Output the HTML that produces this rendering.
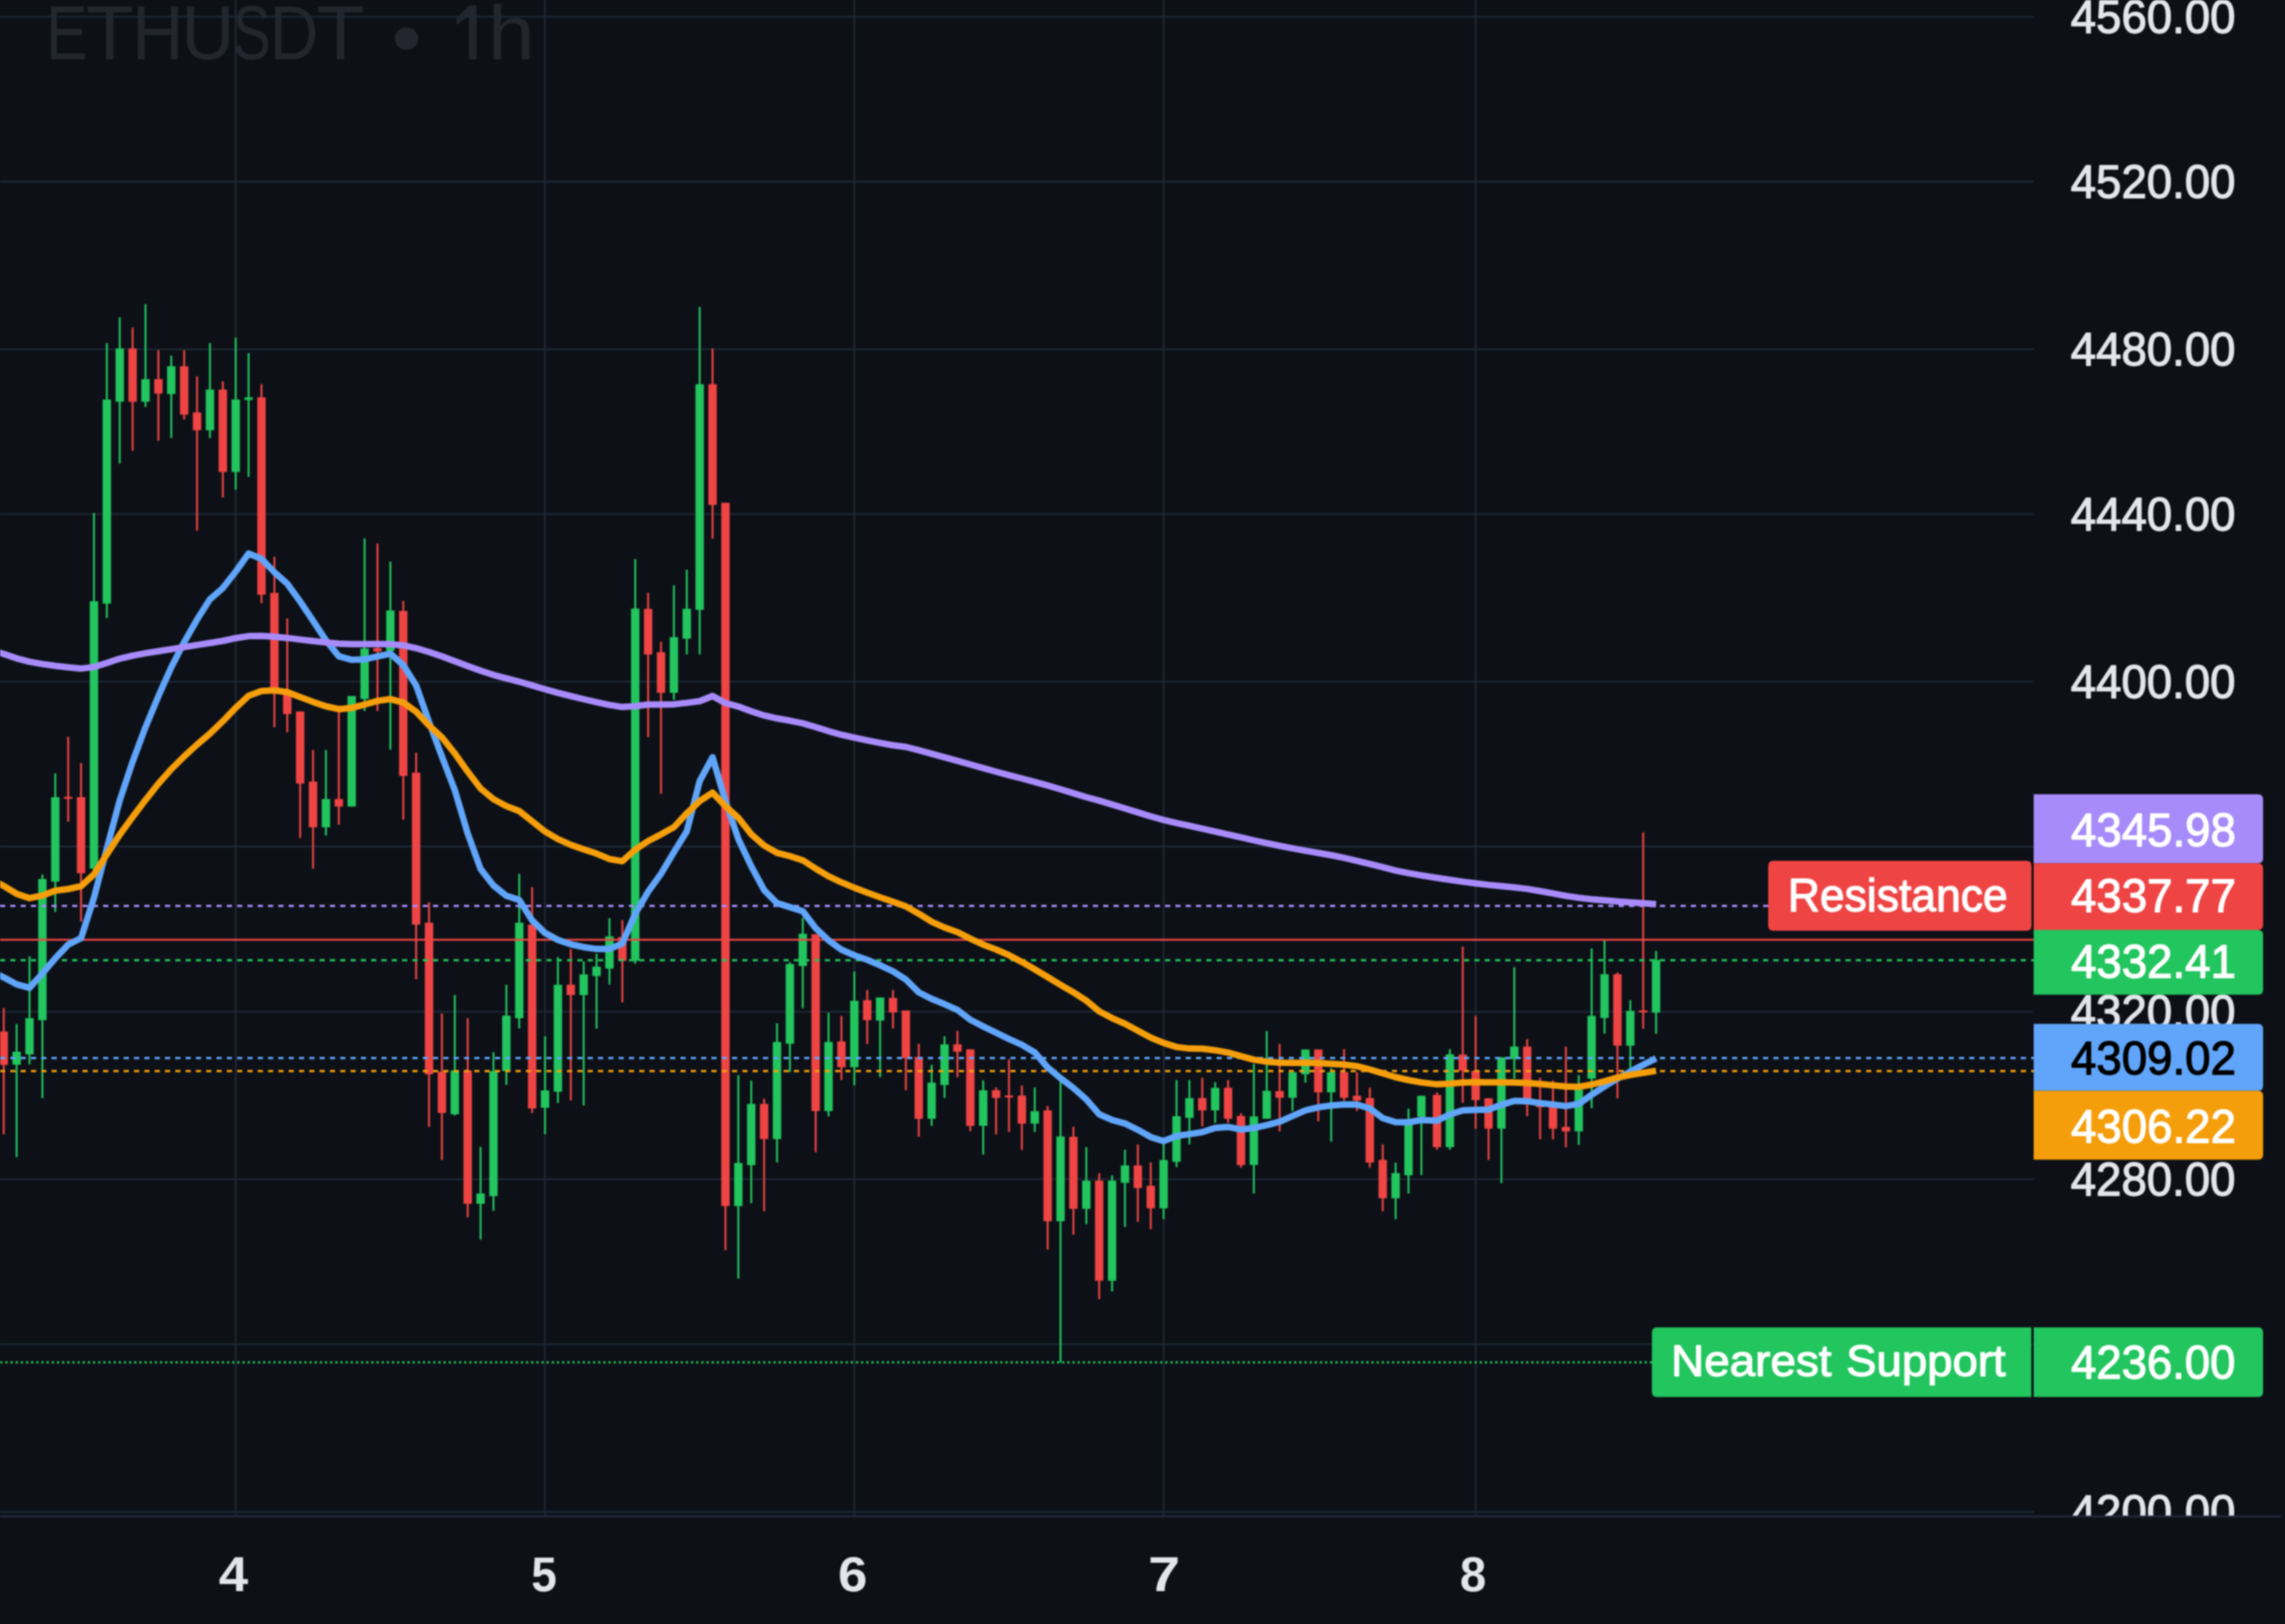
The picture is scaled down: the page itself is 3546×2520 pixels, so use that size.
<!DOCTYPE html><html><head><meta charset="utf-8"><style>html,body{margin:0;padding:0;background:#0d1117;width:3546px;height:2520px;overflow:hidden}svg{display:block;filter:blur(1.1px)}text{font-family:"Liberation Sans",sans-serif}</style></head><body>
<svg width="3546" height="2520" viewBox="0 0 3546 2520">
<rect x="0" y="0" width="3546" height="2520" fill="#0d1117"/>
<text x="71.13" y="91.80" font-size="119.50" textLength="64.76" lengthAdjust="spacingAndGlyphs" fill="#23262e">E</text>
<text x="133.38" y="91.80" font-size="119.50" textLength="74.06" lengthAdjust="spacingAndGlyphs" fill="#23262e">T</text>
<text x="204.83" y="91.80" font-size="119.50" textLength="80.09" lengthAdjust="spacingAndGlyphs" fill="#23262e">H</text>
<text x="281.61" y="91.80" font-size="119.50" textLength="82.10" lengthAdjust="spacingAndGlyphs" fill="#23262e">U</text>
<text x="360.64" y="91.80" font-size="119.50" textLength="59.45" lengthAdjust="spacingAndGlyphs" fill="#23262e">S</text>
<text x="418.20" y="91.80" font-size="119.50" textLength="75.83" lengthAdjust="spacingAndGlyphs" fill="#23262e">D</text>
<text x="491.04" y="91.80" font-size="119.50" textLength="75.03" lengthAdjust="spacingAndGlyphs" fill="#23262e">T</text>
<text x="757.12" y="91.80" font-size="119.50" textLength="72.97" lengthAdjust="spacingAndGlyphs" fill="#23262e">h</text>
<ellipse cx="630.9" cy="60" rx="18.2" ry="17.5" fill="#23262e"/>
<path d="M708.5,28 L728.5,8.2 L739.6,8.2 L739.6,91.8 L727.8,91.8 L727.8,24.5 L708.5,38.5 Z" fill="#23262e"/>
<g stroke="#1e2836" stroke-width="2.6">
<line x1="0" y1="26.0" x2="3156" y2="26.0"/>
<line x1="0" y1="281.9" x2="3156" y2="281.9"/>
<line x1="0" y1="542.0" x2="3156" y2="542.0"/>
<line x1="0" y1="797.8" x2="3156" y2="797.8"/>
<line x1="0" y1="1057.7" x2="3156" y2="1057.7"/>
<line x1="0" y1="1313.6" x2="3156" y2="1313.6"/>
<line x1="0" y1="1570.0" x2="3156" y2="1570.0"/>
<line x1="0" y1="1829.8" x2="3156" y2="1829.8"/>
<line x1="0" y1="2086.0" x2="3156" y2="2086.0"/>
<line x1="0" y1="2346.1" x2="3156" y2="2346.1"/>
<line x1="365.8" y1="0" x2="365.8" y2="2353"/>
<line x1="845.8" y1="0" x2="845.8" y2="2353"/>
<line x1="1325.8" y1="0" x2="1325.8" y2="2353"/>
<line x1="1805.8" y1="0" x2="1805.8" y2="2353"/>
<line x1="2290.0" y1="0" x2="2290.0" y2="2353"/>
</g>
<line x1="0" y1="2353" x2="3540" y2="2353" stroke="#222b3d" stroke-width="2.8"/>
<g fill="#22c55e"><rect x="24.30" y="1589.0" width="3" height="206.5"/><rect x="19.30" y="1632.0" width="13" height="20.0"/><rect x="44.30" y="1484.0" width="3" height="167.5"/><rect x="39.30" y="1580.0" width="13" height="56.0"/><rect x="64.30" y="1357.0" width="3" height="347.0"/><rect x="59.30" y="1364.0" width="13" height="219.0"/><rect x="84.30" y="1200.0" width="3" height="215.0"/><rect x="79.30" y="1237.0" width="13" height="131.0"/><rect x="144.30" y="796.0" width="3" height="554.0"/><rect x="139.30" y="933.0" width="13" height="415.0"/><rect x="164.30" y="532.4" width="3" height="426.6"/><rect x="159.30" y="620.0" width="13" height="316.6"/><rect x="184.30" y="492.4" width="3" height="226.9"/><rect x="179.30" y="540.7" width="13" height="82.7"/><rect x="224.30" y="472.0" width="3" height="159.4"/><rect x="219.30" y="588.3" width="13" height="35.1"/><rect x="264.30" y="552.0" width="3" height="127.7"/><rect x="259.30" y="568.3" width="13" height="43.1"/><rect x="324.30" y="532.4" width="3" height="147.3"/><rect x="319.30" y="604.5" width="13" height="63.1"/><rect x="364.30" y="523.8" width="3" height="236.2"/><rect x="359.30" y="620.0" width="13" height="112.4"/><rect x="384.30" y="548.0" width="3" height="192.0"/><rect x="379.30" y="616.6" width="13" height="4.0"/><rect x="504.30" y="1163.8" width="3" height="132.7"/><rect x="499.30" y="1239.9" width="13" height="43.8"/><rect x="544.30" y="1080.0" width="3" height="171.5"/><rect x="539.30" y="1080.0" width="13" height="171.5"/><rect x="564.30" y="835.5" width="3" height="267.8"/><rect x="559.30" y="1006.3" width="13" height="78.4"/><rect x="604.30" y="871.6" width="3" height="291.8"/><rect x="599.30" y="947.3" width="13" height="62.7"/><rect x="704.30" y="1544.0" width="3" height="187.0"/><rect x="699.30" y="1661.0" width="13" height="68.0"/><rect x="744.30" y="1779.6" width="3" height="143.8"/><rect x="739.30" y="1852.0" width="13" height="16.0"/><rect x="764.30" y="1632.8" width="3" height="246.2"/><rect x="759.30" y="1662.0" width="13" height="194.0"/><rect x="784.30" y="1528.0" width="3" height="155.5"/><rect x="779.30" y="1576.0" width="13" height="86.0"/><rect x="804.30" y="1356.0" width="3" height="239.8"/><rect x="799.30" y="1431.8" width="13" height="148.2"/><rect x="844.30" y="1608.0" width="3" height="152.0"/><rect x="839.30" y="1692.0" width="13" height="27.0"/><rect x="864.30" y="1485.0" width="3" height="226.6"/><rect x="859.30" y="1528.0" width="13" height="166.0"/><rect x="904.30" y="1492.0" width="3" height="223.5"/><rect x="899.30" y="1512.0" width="13" height="32.0"/><rect x="924.30" y="1480.0" width="3" height="116.0"/><rect x="919.30" y="1500.0" width="13" height="14.5"/><rect x="944.30" y="1424.7" width="3" height="103.1"/><rect x="939.30" y="1453.0" width="13" height="50.0"/><rect x="984.30" y="867.6" width="3" height="627.9"/><rect x="979.30" y="944.3" width="13" height="546.7"/><rect x="1044.30" y="908.4" width="3" height="177.6"/><rect x="1039.30" y="988.7" width="13" height="86.3"/><rect x="1064.30" y="884.0" width="3" height="131.5"/><rect x="1059.30" y="944.7" width="13" height="46.3"/><rect x="1084.30" y="476.1" width="3" height="539.4"/><rect x="1079.30" y="596.2" width="13" height="350.1"/><rect x="1144.30" y="1668.4" width="3" height="315.6"/><rect x="1139.30" y="1804.6" width="13" height="66.9"/><rect x="1164.30" y="1676.7" width="3" height="190.3"/><rect x="1159.30" y="1713.0" width="13" height="95.0"/><rect x="1204.30" y="1588.0" width="3" height="215.8"/><rect x="1199.30" y="1616.8" width="13" height="150.7"/><rect x="1224.30" y="1493.0" width="3" height="170.5"/><rect x="1219.30" y="1496.0" width="13" height="123.7"/><rect x="1244.30" y="1424.0" width="3" height="140.4"/><rect x="1239.30" y="1448.9" width="13" height="50.1"/><rect x="1284.30" y="1571.4" width="3" height="161.0"/><rect x="1279.30" y="1616.8" width="13" height="107.2"/><rect x="1324.30" y="1507.5" width="3" height="176.5"/><rect x="1319.30" y="1552.9" width="13" height="103.1"/><rect x="1364.30" y="1547.8" width="3" height="123.7"/><rect x="1359.30" y="1547.8" width="13" height="35.8"/><rect x="1444.30" y="1652.3" width="3" height="94.7"/><rect x="1439.30" y="1680.0" width="13" height="56.0"/><rect x="1464.30" y="1608.0" width="3" height="95.7"/><rect x="1459.30" y="1620.5" width="13" height="63.2"/><rect x="1524.30" y="1676.3" width="3" height="115.3"/><rect x="1519.30" y="1691.8" width="13" height="55.2"/><rect x="1604.30" y="1687.4" width="3" height="69.1"/><rect x="1599.30" y="1724.3" width="13" height="19.2"/><rect x="1644.30" y="1675.8" width="3" height="438.6"/><rect x="1639.30" y="1763.5" width="13" height="131.5"/><rect x="1684.30" y="1780.0" width="3" height="119.6"/><rect x="1679.30" y="1832.0" width="13" height="43.8"/><rect x="1724.30" y="1823.9" width="3" height="180.0"/><rect x="1719.30" y="1832.0" width="13" height="155.4"/><rect x="1744.30" y="1783.9" width="3" height="120.0"/><rect x="1739.30" y="1808.4" width="13" height="27.0"/><rect x="1804.30" y="1772.3" width="3" height="119.3"/><rect x="1799.30" y="1800.0" width="13" height="75.0"/><rect x="1824.30" y="1675.8" width="3" height="135.2"/><rect x="1819.30" y="1732.0" width="13" height="70.8"/><rect x="1844.30" y="1675.8" width="3" height="100.0"/><rect x="1839.30" y="1703.9" width="13" height="30.8"/><rect x="1884.30" y="1679.3" width="3" height="63.2"/><rect x="1879.30" y="1688.0" width="13" height="35.0"/><rect x="1944.30" y="1651.0" width="3" height="201.0"/><rect x="1939.30" y="1732.4" width="13" height="75.3"/><rect x="1964.30" y="1599.9" width="3" height="136.1"/><rect x="1959.30" y="1692.6" width="13" height="43.4"/><rect x="2004.30" y="1663.7" width="3" height="60.3"/><rect x="1999.30" y="1663.7" width="13" height="39.8"/><rect x="2024.30" y="1628.6" width="3" height="51.4"/><rect x="2019.30" y="1628.6" width="13" height="38.3"/><rect x="2064.30" y="1657.4" width="3" height="114.1"/><rect x="2059.30" y="1663.7" width="13" height="31.3"/><rect x="2164.30" y="1804.0" width="3" height="87.8"/><rect x="2159.30" y="1820.3" width="13" height="39.1"/><rect x="2184.30" y="1720.2" width="3" height="131.8"/><rect x="2179.30" y="1739.0" width="13" height="84.8"/><rect x="2204.30" y="1700.0" width="3" height="123.5"/><rect x="2199.30" y="1700.3" width="13" height="32.6"/><rect x="2248.50" y="1628.0" width="3" height="156.0"/><rect x="2243.50" y="1636.0" width="13" height="144.0"/><rect x="2328.50" y="1640.6" width="3" height="195.4"/><rect x="2323.50" y="1640.6" width="13" height="110.8"/><rect x="2348.50" y="1500.7" width="3" height="173.1"/><rect x="2343.50" y="1624.0" width="13" height="19.4"/><rect x="2448.50" y="1668.3" width="3" height="108.1"/><rect x="2443.50" y="1690.5" width="13" height="65.1"/><rect x="2468.50" y="1471.6" width="3" height="248.0"/><rect x="2463.50" y="1576.3" width="13" height="97.5"/><rect x="2488.50" y="1459.0" width="3" height="145.0"/><rect x="2483.50" y="1511.7" width="13" height="67.9"/><rect x="2528.50" y="1552.0" width="3" height="106.6"/><rect x="2523.50" y="1568.5" width="13" height="54.1"/><rect x="2568.50" y="1475.7" width="3" height="128.3"/><rect x="2563.50" y="1489.6" width="13" height="81.7"/></g>
<g fill="#ef4444"><rect x="4.30" y="1564.0" width="3" height="196.0"/><rect x="-0.70" y="1600.6" width="13" height="51.8"/><rect x="104.30" y="1143.5" width="3" height="131.5"/><rect x="99.30" y="1236.5" width="13" height="3.0"/><rect x="124.30" y="1184.0" width="3" height="246.0"/><rect x="119.30" y="1237.0" width="13" height="118.0"/><rect x="204.30" y="508.3" width="3" height="191.0"/><rect x="199.30" y="540.7" width="13" height="82.7"/><rect x="244.30" y="543.4" width="3" height="140.4"/><rect x="239.30" y="588.3" width="13" height="22.4"/><rect x="284.30" y="543.4" width="3" height="107.6"/><rect x="279.30" y="568.3" width="13" height="75.1"/><rect x="304.30" y="584.0" width="3" height="239.4"/><rect x="299.30" y="640.0" width="13" height="27.6"/><rect x="344.30" y="591.7" width="3" height="180.3"/><rect x="339.30" y="604.5" width="13" height="127.9"/><rect x="404.30" y="596.2" width="3" height="339.7"/><rect x="399.30" y="616.6" width="13" height="306.2"/><rect x="424.30" y="863.8" width="3" height="264.7"/><rect x="419.30" y="920.0" width="13" height="147.6"/><rect x="444.30" y="959.7" width="3" height="176.6"/><rect x="439.30" y="1071.5" width="13" height="36.5"/><rect x="464.30" y="1104.0" width="3" height="196.4"/><rect x="459.30" y="1104.0" width="13" height="111.8"/><rect x="484.30" y="1163.8" width="3" height="184.0"/><rect x="479.30" y="1212.7" width="13" height="71.0"/><rect x="524.30" y="1104.0" width="3" height="175.8"/><rect x="519.30" y="1239.9" width="13" height="11.6"/><rect x="584.30" y="843.3" width="3" height="260.0"/><rect x="579.30" y="1006.0" width="13" height="5.0"/><rect x="624.30" y="932.5" width="3" height="339.5"/><rect x="619.30" y="948.0" width="13" height="256.0"/><rect x="644.30" y="1168.0" width="3" height="351.5"/><rect x="639.30" y="1199.0" width="13" height="235.7"/><rect x="664.30" y="1400.0" width="3" height="348.5"/><rect x="659.30" y="1431.8" width="13" height="235.2"/><rect x="684.30" y="1572.7" width="3" height="227.3"/><rect x="679.30" y="1663.0" width="13" height="64.0"/><rect x="724.30" y="1580.0" width="3" height="309.0"/><rect x="719.30" y="1661.0" width="13" height="207.0"/><rect x="824.30" y="1376.6" width="3" height="350.4"/><rect x="819.30" y="1434.7" width="13" height="285.3"/><rect x="884.30" y="1472.7" width="3" height="234.9"/><rect x="879.30" y="1528.0" width="13" height="16.0"/><rect x="964.30" y="1427.8" width="3" height="127.7"/><rect x="959.30" y="1454.0" width="13" height="37.0"/><rect x="1004.30" y="919.8" width="3" height="223.9"/><rect x="999.30" y="944.7" width="13" height="70.8"/><rect x="1024.30" y="996.0" width="3" height="235.8"/><rect x="1019.30" y="1012.0" width="13" height="63.0"/><rect x="1104.30" y="540.7" width="3" height="295.3"/><rect x="1099.30" y="596.2" width="13" height="187.2"/><rect x="1124.30" y="780.2" width="3" height="1159.8"/><rect x="1119.30" y="780.2" width="13" height="1091.3"/><rect x="1184.30" y="1704.7" width="3" height="175.0"/><rect x="1179.30" y="1713.0" width="13" height="54.5"/><rect x="1264.30" y="1449.7" width="3" height="338.3"/><rect x="1259.30" y="1449.7" width="13" height="274.3"/><rect x="1304.30" y="1576.4" width="3" height="99.4"/><rect x="1299.30" y="1616.0" width="13" height="40.0"/><rect x="1344.30" y="1536.0" width="3" height="84.0"/><rect x="1339.30" y="1552.0" width="13" height="31.0"/><rect x="1384.30" y="1536.0" width="3" height="59.8"/><rect x="1379.30" y="1548.5" width="13" height="22.5"/><rect x="1404.30" y="1568.0" width="3" height="123.8"/><rect x="1399.30" y="1568.0" width="13" height="74.0"/><rect x="1424.30" y="1619.8" width="3" height="144.1"/><rect x="1419.30" y="1640.0" width="13" height="96.0"/><rect x="1484.30" y="1599.5" width="3" height="72.0"/><rect x="1479.30" y="1620.5" width="13" height="11.5"/><rect x="1504.30" y="1628.3" width="3" height="127.1"/><rect x="1499.30" y="1628.3" width="13" height="118.7"/><rect x="1544.30" y="1687.4" width="3" height="72.8"/><rect x="1539.30" y="1691.8" width="13" height="11.9"/><rect x="1564.30" y="1643.8" width="3" height="112.7"/><rect x="1559.30" y="1700.0" width="13" height="3.0"/><rect x="1584.30" y="1684.4" width="3" height="99.8"/><rect x="1579.30" y="1700.0" width="13" height="43.5"/><rect x="1624.30" y="1716.0" width="3" height="223.0"/><rect x="1619.30" y="1723.0" width="13" height="172.0"/><rect x="1664.30" y="1748.4" width="3" height="167.6"/><rect x="1659.30" y="1764.0" width="13" height="111.8"/><rect x="1704.30" y="1820.4" width="3" height="195.6"/><rect x="1699.30" y="1832.0" width="13" height="155.4"/><rect x="1764.30" y="1775.8" width="3" height="120.2"/><rect x="1759.30" y="1808.4" width="13" height="35.1"/><rect x="1784.30" y="1803.9" width="3" height="103.5"/><rect x="1779.30" y="1840.0" width="13" height="35.0"/><rect x="1864.30" y="1672.3" width="3" height="75.4"/><rect x="1859.30" y="1703.9" width="13" height="19.1"/><rect x="1904.30" y="1675.9" width="3" height="66.3"/><rect x="1899.30" y="1687.8" width="13" height="48.2"/><rect x="1924.30" y="1727.5" width="3" height="84.4"/><rect x="1919.30" y="1731.7" width="13" height="76.3"/><rect x="1984.30" y="1619.8" width="3" height="136.0"/><rect x="1979.30" y="1693.0" width="13" height="10.5"/><rect x="2044.30" y="1628.6" width="3" height="111.5"/><rect x="2039.30" y="1628.6" width="13" height="66.4"/><rect x="2084.30" y="1628.0" width="3" height="79.7"/><rect x="2079.30" y="1663.7" width="13" height="39.8"/><rect x="2104.30" y="1663.7" width="3" height="60.3"/><rect x="2099.30" y="1700.3" width="13" height="7.4"/><rect x="2124.30" y="1687.8" width="3" height="124.1"/><rect x="2119.30" y="1703.9" width="13" height="100.1"/><rect x="2144.30" y="1775.7" width="3" height="104.0"/><rect x="2139.30" y="1799.8" width="13" height="59.6"/><rect x="2228.50" y="1695.0" width="3" height="89.0"/><rect x="2223.50" y="1699.0" width="13" height="81.0"/><rect x="2268.50" y="1468.8" width="3" height="242.4"/><rect x="2263.50" y="1636.4" width="13" height="25.0"/><rect x="2288.50" y="1576.3" width="3" height="175.1"/><rect x="2283.50" y="1661.4" width="13" height="45.6"/><rect x="2308.50" y="1704.0" width="3" height="96.0"/><rect x="2303.50" y="1704.3" width="13" height="47.1"/><rect x="2368.50" y="1612.3" width="3" height="119.7"/><rect x="2363.50" y="1624.0" width="13" height="90.0"/><rect x="2388.50" y="1672.5" width="3" height="95.5"/><rect x="2383.50" y="1715.4" width="13" height="2.6"/><rect x="2408.50" y="1676.6" width="3" height="91.4"/><rect x="2403.50" y="1718.0" width="13" height="33.4"/><rect x="2428.50" y="1624.0" width="3" height="156.5"/><rect x="2423.50" y="1748.6" width="13" height="7.0"/><rect x="2508.50" y="1509.0" width="3" height="195.3"/><rect x="2503.50" y="1511.7" width="13" height="110.9"/><rect x="2548.50" y="1291.6" width="3" height="304.7"/><rect x="2543.50" y="1568.0" width="13" height="3.0"/></g>
<line x1="0" y1="1405.8" x2="2744" y2="1405.8" stroke="#a78bfa" stroke-width="3.6" stroke-dasharray="8 8"/>
<line x1="0" y1="1458.2" x2="3156" y2="1458.2" stroke="#ef4444" stroke-width="3.0"/>
<line x1="0" y1="1490.0" x2="3156" y2="1490.0" stroke="#22c55e" stroke-width="3.6" stroke-dasharray="8 8"/>
<line x1="0" y1="1641.8" x2="3156" y2="1641.8" stroke="#60a5fa" stroke-width="3.6" stroke-dasharray="8 8"/>
<line x1="0" y1="1662.0" x2="3156" y2="1662.0" stroke="#f59e0b" stroke-width="3.6" stroke-dasharray="8 8"/>
<line x1="2" y1="2114.1" x2="2563" y2="2114.1" stroke="#22c55e" stroke-width="4" stroke-dasharray="0 8" stroke-linecap="round"/>
<polyline points="-14.2,1506.7 5.8,1516.7 25.8,1527.4 45.8,1532.8 65.8,1510.5 85.8,1487.0 105.8,1465.8 125.8,1455.7 145.8,1393.1 165.8,1316.5 185.8,1242.0 205.8,1181.9 225.8,1128.3 245.8,1080.3 265.8,1035.5 285.8,996.5 305.8,961.4 325.8,929.9 345.8,912.4 365.8,887.0 385.8,858.9 405.8,867.2 425.8,887.9 445.8,905.7 465.8,933.4 485.8,963.2 505.8,993.4 525.8,1018.4 545.8,1023.8 565.8,1023.2 585.8,1018.7 605.8,1014.3 625.8,1032.0 645.8,1063.6 665.8,1120.3 685.8,1173.9 705.8,1226.2 725.8,1293.3 745.8,1348.4 765.8,1374.0 785.8,1390.1 805.8,1396.6 825.8,1428.1 845.8,1447.7 865.8,1458.5 885.8,1465.3 905.8,1469.7 925.8,1472.6 945.8,1472.5 965.8,1464.1 985.8,1417.7 1005.8,1383.7 1025.8,1355.9 1045.8,1322.3 1065.8,1290.0 1085.8,1212.0 1105.8,1175.0 1125.8,1243.0 1145.8,1302.0 1165.8,1344.2 1185.8,1381.2 1205.8,1401.4 1225.8,1407.6 1245.8,1413.9 1265.8,1440.2 1285.8,1459.1 1305.8,1473.7 1325.8,1482.4 1345.8,1489.4 1365.8,1497.9 1385.8,1507.2 1405.8,1520.0 1425.8,1539.9 1445.8,1550.0 1465.8,1558.2 1485.8,1567.1 1505.8,1582.4 1525.8,1592.8 1545.8,1602.5 1565.8,1612.3 1585.8,1621.3 1605.8,1633.1 1625.8,1656.4 1645.8,1673.0 1665.8,1688.3 1685.8,1705.9 1705.8,1729.1 1725.8,1737.9 1745.8,1743.3 1765.8,1753.2 1785.8,1764.4 1805.8,1770.7 1825.8,1762.8 1845.8,1759.9 1865.8,1756.7 1885.8,1750.3 1905.8,1748.7 1925.8,1752.7 1945.8,1750.3 1965.8,1745.9 1985.8,1740.6 2005.8,1731.7 2025.8,1723.0 2045.8,1718.3 2065.8,1715.4 2085.8,1713.8 2105.8,1714.0 2125.8,1720.0 2145.8,1735.0 2165.8,1741.3 2185.8,1741.5 2205.8,1738.0 2230.0,1739.0 2250.0,1729.2 2270.0,1723.0 2290.0,1722.2 2310.0,1721.8 2330.0,1714.4 2350.0,1708.2 2370.0,1708.8 2390.0,1711.6 2410.0,1713.9 2430.0,1716.4 2450.0,1712.9 2470.0,1698.9 2490.0,1685.8 2510.0,1673.8 2530.0,1662.8 2550.0,1652.4 2570.0,1642.3" fill="none" stroke="#60a5fa" stroke-width="10" stroke-linejoin="round" stroke-linecap="butt"/>
<polyline points="-14.2,1363.9 5.8,1374.8 25.8,1386.9 45.8,1393.7 65.8,1389.6 85.8,1382.0 105.8,1379.5 125.8,1375.1 145.8,1356.7 165.8,1325.7 185.8,1295.2 205.8,1267.7 225.8,1241.3 245.8,1216.1 265.8,1193.5 285.8,1173.7 305.8,1155.4 325.8,1138.4 345.8,1119.2 365.8,1098.3 385.8,1079.6 405.8,1072.2 425.8,1071.2 445.8,1074.0 465.8,1081.6 485.8,1089.2 505.8,1096.0 525.8,1100.4 545.8,1098.4 565.8,1093.3 585.8,1087.6 605.8,1084.8 625.8,1090.2 645.8,1104.4 665.8,1125.8 685.8,1144.1 705.8,1169.1 725.8,1197.3 745.8,1223.5 765.8,1240.1 785.8,1250.8 805.8,1258.5 825.8,1274.4 845.8,1290.3 865.8,1302.0 885.8,1311.0 905.8,1317.9 925.8,1324.6 945.8,1333.0 965.8,1336.4 985.8,1318.4 1005.8,1305.1 1025.8,1294.7 1045.8,1283.7 1065.8,1262.0 1085.8,1243.0 1105.8,1230.0 1125.8,1251.0 1145.8,1269.0 1165.8,1294.4 1185.8,1312.0 1205.8,1323.4 1225.8,1328.5 1245.8,1334.9 1265.8,1347.9 1285.8,1359.8 1305.8,1369.2 1325.8,1377.5 1345.8,1385.2 1365.8,1392.4 1385.8,1399.3 1405.8,1406.5 1425.8,1417.8 1445.8,1430.2 1465.8,1439.2 1485.8,1446.4 1505.8,1456.5 1525.8,1465.8 1545.8,1473.4 1565.8,1482.2 1585.8,1492.7 1605.8,1504.1 1625.8,1516.1 1645.8,1528.2 1665.8,1539.8 1685.8,1552.7 1705.8,1569.4 1725.8,1579.8 1745.8,1588.6 1765.8,1599.3 1785.8,1610.1 1805.8,1618.4 1825.8,1624.6 1845.8,1627.1 1865.8,1627.2 1885.8,1629.7 1905.8,1633.3 1925.8,1638.9 1945.8,1644.4 1965.8,1647.4 1985.8,1648.9 2005.8,1649.3 2025.8,1649.0 2045.8,1649.6 2065.8,1650.7 2085.8,1652.0 2105.8,1654.4 2125.8,1659.5 2145.8,1665.5 2165.8,1671.5 2185.8,1676.0 2205.8,1679.6 2230.0,1682.6 2250.0,1681.6 2270.0,1679.7 2290.0,1679.2 2310.0,1679.4 2330.0,1679.5 2350.0,1679.7 2370.0,1680.4 2390.0,1682.0 2410.0,1684.1 2430.0,1686.0 2450.0,1686.4 2470.0,1683.0 2490.0,1677.9 2510.0,1672.1 2530.0,1668.0 2550.0,1664.8 2570.0,1661.6" fill="none" stroke="#f59e0b" stroke-width="10" stroke-linejoin="round" stroke-linecap="butt"/>
<polyline points="-14.2,1008.4 5.8,1014.7 25.8,1021.6 45.8,1026.9 65.8,1030.4 85.8,1033.2 105.8,1035.5 125.8,1037.4 145.8,1035.1 165.8,1028.7 185.8,1022.1 205.8,1017.3 225.8,1013.7 245.8,1010.5 265.8,1007.4 285.8,1004.1 305.8,1000.9 325.8,997.7 345.8,994.5 365.8,990.2 385.8,987.1 405.8,986.8 425.8,988.0 445.8,989.9 465.8,992.4 485.8,994.8 505.8,996.9 525.8,998.7 545.8,999.6 565.8,999.6 585.8,999.3 605.8,999.5 625.8,1001.4 645.8,1005.8 665.8,1011.7 685.8,1018.5 705.8,1026.0 725.8,1033.5 745.8,1040.8 765.8,1047.3 785.8,1052.6 805.8,1057.8 825.8,1063.6 845.8,1069.5 865.8,1075.1 885.8,1080.2 905.8,1085.0 925.8,1089.7 945.8,1093.9 965.8,1097.1 985.8,1095.8 1005.8,1093.2 1025.8,1093.2 1045.8,1092.9 1065.8,1090.6 1085.8,1088.0 1105.8,1080.0 1125.8,1091.0 1145.8,1096.3 1165.8,1103.7 1185.8,1110.2 1205.8,1114.8 1225.8,1118.3 1245.8,1122.4 1265.8,1128.2 1285.8,1134.6 1305.8,1140.2 1325.8,1144.7 1345.8,1148.9 1365.8,1152.9 1385.8,1156.5 1405.8,1159.0 1425.8,1164.2 1445.8,1169.6 1465.8,1175.1 1485.8,1180.6 1505.8,1186.2 1525.8,1191.9 1545.8,1197.5 1565.8,1202.8 1585.8,1208.0 1605.8,1213.3 1625.8,1218.9 1645.8,1224.8 1665.8,1230.9 1685.8,1237.0 1705.8,1242.4 1725.8,1248.4 1745.8,1254.5 1765.8,1260.6 1785.8,1266.8 1805.8,1272.4 1825.8,1277.1 1845.8,1281.4 1865.8,1285.8 1885.8,1290.3 1905.8,1294.9 1925.8,1299.4 1945.8,1304.0 1965.8,1308.4 1985.8,1312.5 2005.8,1316.4 2025.8,1320.1 2045.8,1323.5 2065.8,1327.0 2085.8,1331.2 2105.8,1335.8 2125.8,1340.6 2145.8,1345.7 2165.8,1350.8 2185.8,1354.9 2205.8,1358.4 2230.0,1362.2 2250.0,1365.2 2270.0,1368.1 2290.0,1370.7 2310.0,1373.1 2330.0,1375.1 2350.0,1377.0 2370.0,1379.4 2390.0,1382.7 2410.0,1386.4 2430.0,1390.1 2450.0,1393.1 2470.0,1395.4 2490.0,1397.1 2510.0,1398.7 2530.0,1400.2 2550.0,1401.6 2570.0,1402.9" fill="none" stroke="#a78bfa" stroke-width="10" stroke-linejoin="round" stroke-linecap="butt"/>
<clipPath id="pa"><rect x="3156" y="0" width="400" height="2351.7"/></clipPath><g clip-path="url(#pa)">
<text x="3213.49" y="51.30" font-size="72.50" textLength="255.58" lengthAdjust="spacingAndGlyphs" fill="#e2e5ea" stroke="#e2e5ea" stroke-width="1.8" stroke-linejoin="round">4560.00</text>
<text x="3213.49" y="307.20" font-size="72.50" textLength="255.58" lengthAdjust="spacingAndGlyphs" fill="#e2e5ea" stroke="#e2e5ea" stroke-width="1.8" stroke-linejoin="round">4520.00</text>
<text x="3213.49" y="567.30" font-size="72.50" textLength="255.58" lengthAdjust="spacingAndGlyphs" fill="#e2e5ea" stroke="#e2e5ea" stroke-width="1.8" stroke-linejoin="round">4480.00</text>
<text x="3213.49" y="823.10" font-size="72.50" textLength="255.58" lengthAdjust="spacingAndGlyphs" fill="#e2e5ea" stroke="#e2e5ea" stroke-width="1.8" stroke-linejoin="round">4440.00</text>
<text x="3213.49" y="1083.00" font-size="72.50" textLength="255.58" lengthAdjust="spacingAndGlyphs" fill="#e2e5ea" stroke="#e2e5ea" stroke-width="1.8" stroke-linejoin="round">4400.00</text>
<text x="3213.49" y="1595.30" font-size="72.50" textLength="255.58" lengthAdjust="spacingAndGlyphs" fill="#e2e5ea" stroke="#e2e5ea" stroke-width="1.8" stroke-linejoin="round">4320.00</text>
<text x="3213.49" y="1855.10" font-size="72.50" textLength="255.58" lengthAdjust="spacingAndGlyphs" fill="#e2e5ea" stroke="#e2e5ea" stroke-width="1.8" stroke-linejoin="round">4280.00</text>
<text x="3213.49" y="2371.40" font-size="72.50" textLength="255.58" lengthAdjust="spacingAndGlyphs" fill="#e2e5ea" stroke="#e2e5ea" stroke-width="1.8" stroke-linejoin="round">4200.00</text>
</g>
<path d="M3156,1232.5 H3504 Q3512,1232.5 3512,1240.5 V1331.4 Q3512,1339.4 3504,1339.4 H3156 Q3156,1339.4 3156,1339.4 V1232.5 Q3156,1232.5 3156,1232.5 Z" fill="#a78bfa"/>
<text x="3213.98" y="1313.10" font-size="72.50" textLength="255.79" lengthAdjust="spacingAndGlyphs" fill="#ffffff" stroke="#ffffff" stroke-width="1.8" stroke-linejoin="round">4345.98</text>
<path d="M3156,1339.4 H3504 Q3512,1339.4 3512,1347.4 V1435.0 Q3512,1443.0 3504,1443.0 H3156 Q3156,1443.0 3156,1443.0 V1339.4 Q3156,1339.4 3156,1339.4 Z" fill="#ef4444"/>
<text x="3213.98" y="1414.80" font-size="72.50" textLength="255.79" lengthAdjust="spacingAndGlyphs" fill="#ffffff" stroke="#ffffff" stroke-width="1.8" stroke-linejoin="round">4337.77</text>
<path d="M3156,1443.0 H3504 Q3512,1443.0 3512,1451.0 V1535.6 Q3512,1543.6 3504,1543.6 H3156 Q3156,1543.6 3156,1543.6 V1443.0 Q3156,1443.0 3156,1443.0 Z" fill="#22c55e"/>
<text x="3213.98" y="1517.10" font-size="72.50" textLength="255.79" lengthAdjust="spacingAndGlyphs" fill="#ffffff" stroke="#ffffff" stroke-width="1.8" stroke-linejoin="round">4332.41</text>
<path d="M3156,1588.7 H3504 Q3512,1588.7 3512,1596.7 V1684.4 Q3512,1692.4 3504,1692.4 H3156 Q3156,1692.4 3156,1692.4 V1588.7 Q3156,1588.7 3156,1588.7 Z" fill="#60a5fa"/>
<text x="3213.98" y="1667.30" font-size="72.50" textLength="255.79" lengthAdjust="spacingAndGlyphs" fill="#000000" stroke="#000000" stroke-width="1.8" stroke-linejoin="round">4309.02</text>
<path d="M3156,1692.4 H3504 Q3512,1692.4 3512,1700.4 V1791.5 Q3512,1799.5 3504,1799.5 H3156 Q3156,1799.5 3156,1799.5 V1692.4 Q3156,1692.4 3156,1692.4 Z" fill="#f59e0b"/>
<text x="3213.98" y="1773.20" font-size="72.50" textLength="255.79" lengthAdjust="spacingAndGlyphs" fill="#ffffff" stroke="#ffffff" stroke-width="1.8" stroke-linejoin="round">4306.22</text>
<path d="M3156,2059.7 H3504 Q3512,2059.7 3512,2067.7 V2159.8 Q3512,2167.8 3504,2167.8 H3156 Q3156,2167.8 3156,2167.8 V2059.7 Q3156,2059.7 3156,2059.7 Z" fill="#22c55e"/>
<text x="3213.99" y="2139.20" font-size="72.50" textLength="255.07" lengthAdjust="spacingAndGlyphs" fill="#ffffff" stroke="#ffffff" stroke-width="1.8" stroke-linejoin="round">4236.00</text>
<path d="M2752,1335.8 H3144.6 Q3152.6,1335.8 3152.6,1343.8 V1436.3 Q3152.6,1444.3 3144.6,1444.3 H2752 Q2744,1444.3 2744,1436.3 V1343.8 Q2744,1335.8 2752,1335.8 Z" fill="#ef4444"/>
<text x="2774.38" y="1414.40" font-size="72.00" textLength="341.35" lengthAdjust="spacingAndGlyphs" fill="#ffffff" stroke="#ffffff" stroke-width="1.8" stroke-linejoin="round">Resistance</text>
<path d="M2571.5,2059.7 H3152.3 Q3152.3,2059.7 3152.3,2059.7 V2167.8 Q3152.3,2167.8 3152.3,2167.8 H2571.5 Q2563.5,2167.8 2563.5,2159.8 V2067.7 Q2563.5,2059.7 2571.5,2059.7 Z" fill="#22c55e"/>
<text x="2593.31" y="2134.70" font-size="69.20" textLength="249.01" lengthAdjust="spacingAndGlyphs" fill="#ffffff" stroke="#ffffff" stroke-width="1.8" stroke-linejoin="round">Nearest</text>
<text x="2864.97" y="2134.70" font-size="69.20" textLength="247.51" lengthAdjust="spacingAndGlyphs" fill="#ffffff" stroke="#ffffff" stroke-width="1.8" stroke-linejoin="round">Support</text>
<text x="339.48" y="2468.50" font-size="76.50" font-weight="bold" textLength="45.63" lengthAdjust="spacingAndGlyphs" fill="#e2e5ea">4</text>
<text x="824.46" y="2468.50" font-size="76.50" font-weight="bold" textLength="39.61" lengthAdjust="spacingAndGlyphs" fill="#e2e5ea">5</text>
<text x="1300.52" y="2468.50" font-size="76.50" font-weight="bold" textLength="45.54" lengthAdjust="spacingAndGlyphs" fill="#e2e5ea">6</text>
<text x="1781.83" y="2468.50" font-size="76.50" font-weight="bold" textLength="49.59" lengthAdjust="spacingAndGlyphs" fill="#e2e5ea">7</text>
<text x="2265.39" y="2468.50" font-size="76.50" font-weight="bold" textLength="40.94" lengthAdjust="spacingAndGlyphs" fill="#e2e5ea">8</text>
</svg></body></html>
